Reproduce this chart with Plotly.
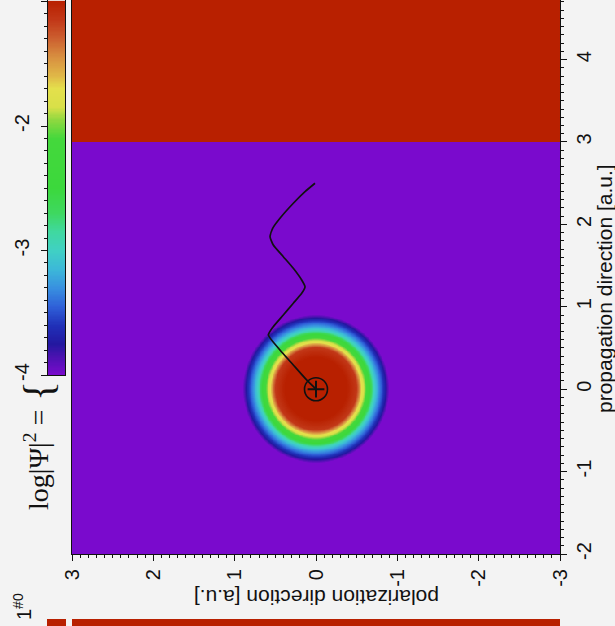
import numpy as np
import plotly.graph_objects as go

# ---------------- data ----------------
# radial profile of log|Psi|^2 around the wave-packet centre (a.u., value)
ring_radius = [0.00, 0.50, 0.535, 0.56, 0.60, 0.65, 0.71, 0.76, 0.81, 0.86, 0.90, 0.95, 5.0]
ring_logpsi = [-0.50, -1.15, -1.45, -1.70, -1.95, -2.40, -2.95, -3.25, -3.50, -3.75, -4.00, -4.20, -4.50]
packet_centre = (0.0, 0.0)          # (polarization, propagation)
wall_start = 3.0                     # propagation coordinate where the red region starts
wall_logpsi = -0.5

# trajectory of the centre (polarization, propagation)
traj_pol = [0.0, 0.115, 0.279, 0.443, 0.586, 0.525, 0.402, 0.279, 0.176, 0.135, 0.176,
            0.279, 0.402, 0.525, 0.565, 0.533, 0.443, 0.279, 0.135, 0.012]
traj_prop = [0.0, 0.112, 0.294, 0.476, 0.658, 0.759, 0.900, 1.043, 1.164, 1.244, 1.325,
             1.467, 1.608, 1.750, 1.851, 1.952, 2.074, 2.256, 2.397, 2.499]

pol_ticks = [3, 2, 1, 0, -1, -2, -3]
pol_ticktext = ["3", "2", "1", "0", "-1", "-2", "-3"]
prop_ticks = [-2, -1, 0, 1, 2, 3, 4]
prop_ticktext = ["-2", "-1", "0", "1", "2", "3", "4"]
cbar_ticks = [-4, -3, -2, -1]
cbar_ticktext = ["-4", "-3", "-2", "-1"]

zmin, zmax = -4.0, -1.0
colorscale = [
    [0.000, "#7a0acd"], [0.050, "#4a12b0"], [0.083, "#2318a0"], [0.133, "#2030b8"],
    [0.183, "#2f60d8"], [0.233, "#3890e0"], [0.283, "#3cb8d8"], [0.333, "#40d0c4"],
    [0.383, "#40d8a0"], [0.433, "#3ed860"], [0.500, "#3cd83c"], [0.633, "#44d83c"],
    [0.683, "#90d840"], [0.717, "#d8e048"], [0.767, "#e4e04c"], [0.800, "#e0b848"],
    [0.850, "#d89040"], [0.900, "#cc6030"], [0.950, "#c23818"], [1.000, "#b82000"],
]

# ---------------- grid ----------------
pol = np.round(np.arange(-3.0, 3.0001, 0.01), 3)
prop = np.round(np.arange(-2.0, 4.7301, 0.01), 3)
P, Q = np.meshgrid(pol, prop)
R = np.hypot(P - packet_centre[0], Q - packet_centre[1])
Z = np.interp(R, ring_radius, ring_logpsi)
Z[Q >= wall_start] = wall_logpsi
Z = np.round(Z, 2)

cbar_levels = np.linspace(zmin, zmax, 301)

# ---------------- geometry helpers (pixels -> paper) ----------------
W, H = 615, 626
ML, MR, MT, MB = 0, 55, 0, 72
PW, PH = W - ML - MR, H - MT - MB
def fx(px):
    return (px - ML) / PW
def fy(py):
    return (H - MB - py) / PH

SANS = "Liberation Sans, Arial, sans-serif"
SERIF = "Liberation Serif, Times New Roman, serif"

fig = go.Figure()
fig.add_trace(go.Heatmap(x=pol, y=prop, z=Z, zmin=zmin, zmax=zmax, colorscale=colorscale,
                         showscale=False, xaxis="x", yaxis="y", hoverinfo="skip"))
fig.add_trace(go.Scatter(x=traj_pol, y=traj_prop, mode="lines",
                         line=dict(color="#111111", width=1.7, shape="spline", smoothing=0.5),
                         xaxis="x", yaxis="y", showlegend=False, hoverinfo="skip"))
fig.add_trace(go.Scatter(x=[packet_centre[0]], y=[packet_centre[1]], mode="markers",
                         marker=dict(symbol="circle-open", size=23, color="#111111",
                                     line=dict(width=1.6, color="#111111")),
                         xaxis="x", yaxis="y", showlegend=False, hoverinfo="skip"))
fig.add_trace(go.Scatter(x=[packet_centre[0]], y=[packet_centre[1]], mode="markers",
                         marker=dict(symbol="cross-thin-open", size=12, color="#111111",
                                     line=dict(width=2, color="#111111")),
                         xaxis="x", yaxis="y", showlegend=False, hoverinfo="skip"))
# colour bar drawn as its own small heatmap
fig.add_trace(go.Heatmap(x=[0, 1], y=cbar_levels, z=np.column_stack([cbar_levels, cbar_levels]),
                         zmin=zmin, zmax=zmax, colorscale=colorscale, showscale=False,
                         xaxis="x2", yaxis="y2", hoverinfo="skip"))

tickfont = dict(family=SANS, size=20, color="#111111")
minor = dict(dtick=0.1, ticks="outside", ticklen=3, tickcolor="#111111")

fig.update_layout(
    width=W, height=H,
    margin=dict(l=ML, r=MR, t=MT, b=MB, autoexpand=False),
    paper_bgcolor="#f3f3f3", plot_bgcolor="#f3f3f3",
    showlegend=False,
    xaxis=dict(domain=[fx(72), 1.0], range=[3, -3], anchor="y", automargin=False,
               tickvals=pol_ticks, ticktext=pol_ticktext, tickangle=-90,
               ticks="outside", ticklen=6, tickcolor="#111111", minor=minor,
               showline=True, linecolor="#111111", linewidth=1, mirror=False,
               showgrid=False, zeroline=False, tickfont=tickfont),
    yaxis=dict(domain=[0, 1], range=[-2, 4.723], anchor="x", side="right", automargin=False,
               tickvals=prop_ticks, ticktext=prop_ticktext, tickangle=-90,
               ticks="outside", ticklen=6, tickcolor="#111111", minor=minor,
               showline=True, linecolor="#111111", linewidth=1, mirror=True,
               showgrid=False, zeroline=False, tickfont=tickfont),
    xaxis2=dict(domain=[fx(48), fx(65)], range=[-0.5, 1.5], anchor="y2", automargin=False,
                showticklabels=False, ticks="", showline=True, linecolor="#111111",
                mirror=True, showgrid=False, zeroline=False),
    yaxis2=dict(domain=[fy(375), 1.0], range=[zmin, zmax + 0.012], anchor="x2", side="left",
                automargin=False, ticklabelstandoff=4,
                tickvals=cbar_ticks, ticktext=cbar_ticktext, tickangle=-90,
                ticks="outside", ticklen=6, tickcolor="#111111", minor=minor,
                showline=True, linecolor="#111111", mirror=True,
                showgrid=False, zeroline=False, tickfont=tickfont),
)

ann = [
    dict(text="propagation direction [a.u.]", x=fx(604), y=fy(289), textangle=-90,
         font=dict(family=SANS, size=21, color="#111111")),
    dict(text="polarization direction [a.u.]", x=fx(317), y=fy(598), textangle=180,
         font=dict(family=SANS, size=21, color="#111111")),
    dict(text="log|Ψ|<sup>2</sup> =", x=fx(36), y=fy(460), textangle=-90,
         font=dict(family=SERIF, size=28, color="#111111")),
    dict(text="{", x=fx(38), y=fy(391), textangle=-90,
         font=dict(family=SERIF, size=42, color="#111111")),
    dict(text="1<sup>#0</sup>", x=fx(22), y=fy(607), textangle=-90,
         font=dict(family=SANS, size=20, color="#111111")),
]
for a in ann:
    a.update(xref="paper", yref="paper", showarrow=False, xanchor="center", yanchor="middle")
fig.update_layout(annotations=ann)

fig.update_layout(shapes=[
    dict(type="rect", xref="paper", yref="paper", x0=fx(47), x1=fx(66), y0=fy(626), y1=fy(619),
         fillcolor="#b82000", line=dict(width=0), layer="above"),
    dict(type="rect", xref="paper", yref="paper", x0=fx(72), x1=fx(560), y0=fy(626), y1=fy(619),
         fillcolor="#b82000", line=dict(width=0), layer="above"),
])

fig.write_html("out.html", config={"displayModeBar": False},
               post_script="document.body.style.margin='0';document.body.style.overflow='hidden';")
